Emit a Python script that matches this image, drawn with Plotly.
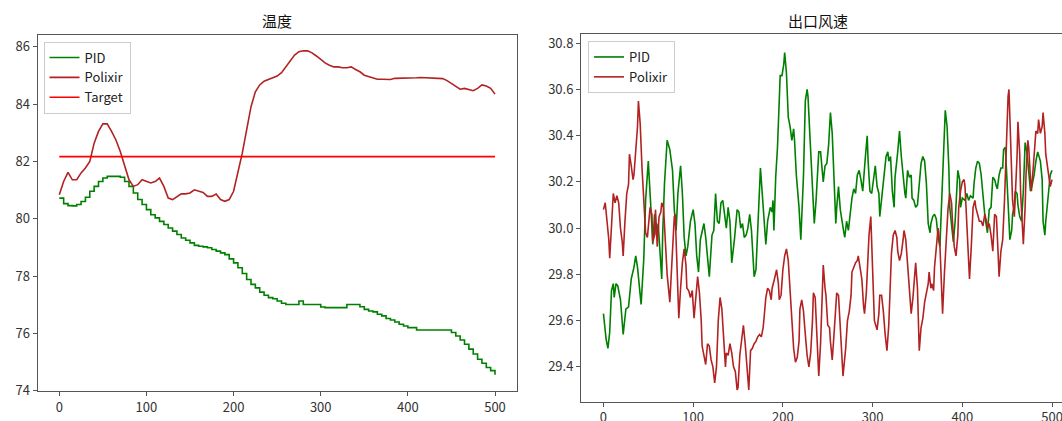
import plotly.graph_objects as go

# ---------------- 温度 (temperature) ----------------
temp_t = list(range(0, 501, 5))
temp_pid = [80.72, 80.53, 80.46, 80.45, 80.50, 80.60, 80.75, 80.96, 81.13, 81.30,
            81.42, 81.48, 81.48, 81.48, 81.45, 81.30, 81.13, 80.90, 80.67, 80.50,
            80.32, 80.14, 80.03, 79.91, 79.80, 79.68, 79.57, 79.45, 79.33, 79.25,
            79.16, 79.07, 79.04, 79.02, 78.99, 78.93, 78.87, 78.81, 78.75, 78.60,
            78.46, 78.29, 78.09, 77.88, 77.71, 77.59, 77.44, 77.33, 77.25, 77.21,
            77.13, 77.05, 77.01, 77.01, 77.01, 77.13, 77.01, 77.01, 77.01, 77.01,
            76.92, 76.90, 76.90, 76.90, 76.90, 76.90, 77.01, 77.01, 77.01, 76.93,
            76.84, 76.78, 76.75, 76.67, 76.61, 76.52, 76.47, 76.40, 76.32, 76.26,
            76.20, 76.20, 76.12, 76.12, 76.12, 76.12, 76.12, 76.12, 76.12, 76.12,
            76.03, 75.91, 75.77, 75.62, 75.45, 75.28, 75.10, 74.96, 74.81, 74.70,
            74.56]
temp_polixir = [80.84, 81.30, 81.62, 81.36, 81.36, 81.60, 81.77, 82.00, 82.64, 83.05,
                83.31, 83.31, 83.05, 82.75, 82.35, 81.83, 81.36, 81.13, 81.19, 81.36,
                81.30, 81.25, 81.30, 81.42, 81.13, 80.72, 80.67, 80.78, 80.87, 80.87,
                80.90, 81.01, 80.96, 80.92, 80.78, 80.78, 80.86, 80.67, 80.61, 80.67,
                80.96, 81.60, 82.29, 83.10, 83.91, 84.43, 84.67, 84.80, 84.86, 84.92,
                84.98, 85.10, 85.30, 85.51, 85.71, 85.83, 85.86, 85.86, 85.79, 85.68,
                85.56, 85.44, 85.36, 85.30, 85.30, 85.27, 85.27, 85.30, 85.21, 85.13,
                85.01, 84.96, 84.90, 84.87, 84.87, 84.87, 84.86, 84.90, 84.90, 84.90,
                84.90, 84.90, 84.92, 84.93, 84.92, 84.92, 84.92, 84.91, 84.89, 84.82,
                84.72, 84.61, 84.52, 84.55, 84.52, 84.47, 84.55, 84.67, 84.63, 84.55,
                84.35]
target_t = [0, 500]
target_v = [82.17, 82.17]

# ---------------- 出口风速 (outlet wind speed) ----------------
wind_pid_t = [0, 3, 5, 7, 9, 11, 12, 14, 16, 19, 22, 25, 28, 31, 34, 36, 38, 40, 42, 45,
              47, 50, 52, 54, 55, 57, 59, 61, 63, 65, 66, 68, 71, 74, 77, 79, 81, 83, 86, 88,
              90, 92, 94, 97, 100, 102, 104, 106, 108, 110, 112, 114, 116, 118, 121, 123, 125, 127, 129, 131,
              133, 135, 137, 139, 141, 143, 146, 149, 151, 153, 155, 157, 159, 161, 163, 165, 166, 168, 170, 172,
              174, 175, 177, 179, 181, 183, 186, 188, 189, 190, 192, 194, 197, 199, 201, 202, 204, 206, 208, 210,
              212, 213, 215, 218, 220, 223, 225, 227, 228, 230, 232, 233, 235, 237, 240, 242, 244, 245, 247, 249,
              251, 253, 255, 257, 259, 260, 262, 264, 266, 268, 269, 271, 273, 275, 277, 279, 281, 283, 285, 287,
              289, 292, 294, 295, 297, 299, 301, 303, 305, 307, 308, 311, 313, 315, 317, 318, 320, 322, 324, 325,
              328, 330, 332, 334, 336, 337, 339, 341, 343, 344, 346, 348, 350, 352, 354, 356, 358, 360, 362, 364,
              365, 367, 369, 371, 373, 375, 376, 378, 380, 381, 383, 385, 386, 389, 390, 392, 394, 395, 397, 398,
              400, 403, 405, 407, 409, 412, 413, 415, 417, 419, 421, 423, 425, 426, 428, 430, 432, 434, 436, 438,
              439, 441, 443, 445, 446, 448, 450, 452, 453, 455, 456, 458, 459, 461, 462, 464, 466, 468, 470, 472,
              474, 476, 478, 480, 482, 484, 487, 489, 490, 492, 493, 496, 498, 500]
wind_pid_v = [29.63, 29.52, 29.48, 29.55, 29.73, 29.76, 29.70, 29.76, 29.75, 29.69, 29.54, 29.65, 29.66, 29.78, 29.83, 29.88, 29.83, 29.74, 29.67, 29.87,
              30.12, 30.29, 30.17, 30.01, 29.93, 30.06, 29.97, 30.02, 29.90, 29.78, 29.97, 30.19, 30.38, 30.34, 30.25, 30.08, 29.99, 30.15, 30.27, 30.15,
              29.96, 29.88, 29.92, 30.03, 30.08, 30.02, 29.88, 29.81, 29.95, 29.99, 30.02, 29.96, 29.86, 29.79, 29.97, 29.99, 30.15, 30.03, 30.02, 30.11,
              30.12, 30.06, 30.00, 30.09, 30.03, 29.85, 29.95, 30.08, 30.07, 30.00, 30.02, 29.96, 29.97, 30.00, 30.06, 29.99, 29.90, 29.79, 29.82, 30.03,
              30.20, 30.26, 30.15, 30.02, 29.93, 30.03, 30.09, 30.07, 30.12, 29.99, 30.22, 30.35, 30.66, 30.66, 30.71, 30.76, 30.67, 30.48, 30.44, 30.38,
              30.43, 30.38, 30.23, 30.09, 29.95, 30.23, 30.55, 30.60, 30.57, 30.41, 30.26, 30.15, 30.02, 30.12, 30.33, 30.33, 30.22, 30.20, 30.27, 30.28,
              30.36, 30.50, 30.41, 30.23, 30.02, 30.09, 30.18, 30.08, 30.02, 29.98, 29.96, 30.03, 29.99, 30.06, 30.13, 30.17, 30.15, 30.23, 30.25, 30.21,
              30.16, 30.31, 30.40, 30.29, 30.16, 30.15, 30.21, 30.27, 30.18, 30.15, 30.05, 30.15, 30.23, 30.31, 30.33, 30.29, 30.31, 30.16, 30.09, 30.22,
              30.33, 30.42, 30.31, 30.21, 30.15, 30.13, 30.25, 30.22, 30.23, 30.13, 30.12, 30.09, 30.10, 30.19, 30.28, 30.31, 30.29, 30.19, 30.02, 29.98,
              30.02, 30.05, 30.06, 30.04, 29.96, 29.92, 30.03, 30.23, 30.46, 30.51, 30.44, 30.26, 30.09, 29.97, 29.94, 30.03, 30.19, 30.25, 30.21, 30.09,
              30.13, 30.12, 30.15, 30.12, 30.14, 30.13, 30.19, 30.26, 30.29, 30.28, 30.23, 30.13, 30.06, 30.03, 29.98, 30.08, 30.09, 30.22, 30.21, 30.18,
              30.17, 30.23, 30.26, 30.26, 30.34, 30.35, 30.19, 30.00, 29.95, 29.99, 30.06, 30.10, 30.16, 30.15, 30.10, 30.05, 30.03, 30.16, 30.37, 30.33,
              30.23, 30.16, 30.19, 30.23, 30.29, 30.33, 30.29, 30.21, 30.03, 29.97, 30.03, 30.16, 30.23, 30.25]

wind_pol_t = [0, 2, 4, 6, 7, 9, 11, 13, 15, 17, 19, 21, 22, 24, 26, 28, 29, 31, 33, 34,
              36, 38, 39, 41, 43, 45, 47, 49, 51, 52, 54, 55, 57, 58, 60, 62, 64, 65, 67, 69,
              71, 74, 76, 79, 80, 82, 84, 86, 88, 90, 92, 93, 95, 97, 99, 101, 103, 105, 107, 109,
              110, 112, 114, 116, 118, 120, 122, 124, 126, 128, 130, 132, 134, 136, 137, 139, 141, 143, 145, 147,
              149, 150, 152, 155, 156, 158, 160, 162, 164, 166, 168, 170, 172, 174, 176, 178, 179, 181, 183, 185,
              187, 188, 190, 192, 193, 195, 196, 198, 200, 202, 204, 206, 208, 210, 212, 214, 216, 218, 219, 221,
              223, 225, 227, 229, 231, 233, 234, 236, 238, 240, 242, 244, 245, 247, 248, 250, 252, 253, 255, 257,
              259, 260, 262, 264, 266, 267, 269, 270, 272, 274, 276, 277, 279, 281, 283, 284, 286, 288, 290, 291,
              293, 295, 296, 298, 299, 301, 302, 304, 305, 307, 308, 310, 312, 314, 316, 318, 320, 321, 323, 325,
              327, 328, 330, 332, 334, 335, 337, 339, 341, 343, 345, 347, 348, 350, 352, 354, 356, 358, 360, 362,
              363, 365, 366, 368, 369, 371, 373, 375, 376, 378, 380, 382, 384, 386, 388, 389, 391, 393, 395, 396,
              398, 400, 402, 403, 405, 407, 408, 410, 412, 414, 415, 417, 419, 421, 423, 425, 427, 428, 430, 432,
              434, 436, 438, 440, 441, 443, 445, 447, 449, 451, 452, 453, 455, 456, 458, 459, 461, 462, 464, 465,
              467, 468, 470, 471, 473, 474, 476, 477, 479, 481, 482, 484, 485, 487, 489, 490, 492, 493, 496, 498,
              500]
wind_pol_v = [30.08, 30.11, 30.03, 29.95, 29.87, 30.00, 30.15, 30.11, 30.14, 30.11, 30.00, 29.94, 29.88, 30.03, 30.15, 30.19, 30.32, 30.27, 30.21, 30.23,
              30.32, 30.44, 30.55, 30.45, 30.26, 30.11, 29.98, 29.96, 30.03, 30.09, 30.06, 29.94, 29.97, 30.08, 29.92, 30.05, 30.07, 30.11, 30.09, 29.92,
              29.80, 29.68, 29.84, 30.05, 30.06, 29.80, 29.61, 29.74, 29.85, 29.91, 29.84, 29.74, 29.73, 29.70, 29.73, 29.61, 29.71, 29.79, 29.72, 29.60,
              29.49, 29.44, 29.41, 29.50, 29.49, 29.43, 29.40, 29.33, 29.40, 29.60, 29.70, 29.65, 29.50, 29.40, 29.46, 29.45, 29.50, 29.46, 29.40, 29.38,
              29.30, 29.31, 29.45, 29.55, 29.58, 29.50, 29.40, 29.30, 29.47, 29.48, 29.50, 29.51, 29.53, 29.54, 29.53, 29.57, 29.61, 29.70, 29.74, 29.73,
              29.69, 29.74, 29.77, 29.81, 29.82, 29.76, 29.69, 29.71, 29.82, 29.88, 29.91, 29.86, 29.74, 29.60, 29.48, 29.42, 29.44, 29.51, 29.65, 29.69,
              29.64, 29.54, 29.45, 29.40, 29.46, 29.60, 29.72, 29.70, 29.52, 29.36, 29.50, 29.71, 29.84, 29.74, 29.71, 29.58, 29.57, 29.51, 29.43, 29.54,
              29.67, 29.72, 29.71, 29.58, 29.44, 29.36, 29.44, 29.48, 29.60, 29.64, 29.71, 29.81, 29.83, 29.85, 29.86, 29.88, 29.83, 29.78, 29.66, 29.63,
              29.72, 29.89, 29.97, 30.05, 29.90, 29.71, 29.60, 29.57, 29.56, 29.63, 29.71, 29.71, 29.64, 29.54, 29.47, 29.58, 29.76, 29.89, 29.97, 29.99,
              29.96, 29.90, 29.86, 29.89, 29.95, 29.99, 29.95, 29.83, 29.71, 29.63, 29.70, 29.82, 29.85, 29.74, 29.47, 29.57, 29.61, 29.68, 29.72, 29.76,
              29.81, 29.74, 29.76, 29.73, 29.83, 29.92, 30.00, 29.93, 29.80, 29.63, 29.80, 29.97, 30.08, 30.15, 30.11, 30.03, 29.92, 29.88, 29.97, 30.09,
              30.16, 30.20, 30.21, 30.18, 30.03, 29.89, 29.78, 29.92, 30.09, 30.12, 30.09, 30.06, 30.03, 30.03, 30.01, 30.06, 30.03, 30.00, 30.02, 29.97,
              29.90, 30.06, 30.05, 29.88, 29.79, 29.90, 29.95, 30.12, 30.36, 30.57, 30.60, 30.49, 30.29, 30.12, 30.05, 30.12, 30.31, 30.46, 30.32, 30.15,
              30.03, 29.93, 30.09, 30.23, 30.38, 30.35, 30.21, 30.16, 30.26, 30.35, 30.42, 30.41, 30.47, 30.41, 30.44, 30.50, 30.41, 30.32, 30.22, 30.18,
              30.21]

# ---------------- styling ----------------
W, H = 1062, 421
GREEN = "#008000"
POLIXIR = "#b22222"
TARGET = "#ff0000"
FRAME = "#555555"
FONT = "Noto Sans CJK SC, DejaVu Sans, sans-serif"
LW = 1.6

fig = go.Figure()
fig.add_trace(go.Scatter(x=temp_t, y=temp_pid, name="PID", mode="lines",
                         line=dict(color=GREEN, width=LW, shape="hv"), xaxis="x", yaxis="y", legend="legend"))
fig.add_trace(go.Scatter(x=temp_t, y=temp_polixir, name="Polixir", mode="lines",
                         line=dict(color=POLIXIR, width=LW), xaxis="x", yaxis="y", legend="legend"))
fig.add_trace(go.Scatter(x=target_t, y=target_v, name="Target", mode="lines",
                         line=dict(color=TARGET, width=LW), xaxis="x", yaxis="y", legend="legend"))
fig.add_trace(go.Scatter(x=wind_pid_t, y=wind_pid_v, name="PID", mode="lines",
                         line=dict(color=GREEN, width=LW), xaxis="x2", yaxis="y2", legend="legend2"))
fig.add_trace(go.Scatter(x=wind_pol_t, y=wind_pol_v, name="Polixir", mode="lines",
                         line=dict(color=POLIXIR, width=LW), xaxis="x2", yaxis="y2", legend="legend2"))


def px(x):
    return x / W


def py(y):
    return 1 - y / H


axis_common = dict(showgrid=False, zeroline=False, showline=True, linecolor=FRAME, linewidth=1,
                   ticks="outside", ticklen=4, tickcolor=FRAME, ticklabeloverflow="allow",
                   automargin=False,
                   tickfont=dict(family=FONT, size=13, color="#333333"))

legend_common = dict(xanchor="left", yanchor="top", bgcolor="rgba(255,255,255,0.85)",
                     bordercolor="#cccccc", borderwidth=1, itemwidth=30,
                     font=dict(family=FONT, size=13, color="#222222"), tracegroupgap=0)

fig.update_layout(
    template="none",
    width=W, height=H, autosize=False,
    margin=dict(l=0, r=0, t=0, b=0, pad=0),
    paper_bgcolor="white", plot_bgcolor="white",
    font=dict(family=FONT, size=13, color="#222222"),
    xaxis=dict(domain=[px(37.5), px(516.8)], range=[-25, 525], tickvals=[0, 100, 200, 300, 400, 500],
               mirror=True, anchor="y", **axis_common),
    yaxis=dict(domain=[py(391), py(34.5)], range=[73.99, 86.43], tickvals=[74, 76, 78, 80, 82, 84, 86],
               mirror=True, anchor="x", **axis_common),
    xaxis2=dict(domain=[px(581), 1.0], range=[-25, 511.1], tickvals=[0, 100, 200, 300, 400, 500],
                mirror=True, anchor="y2", **axis_common),
    yaxis2=dict(domain=[py(401.5), py(34)], range=[29.25, 30.84],
                tickvals=[29.4, 29.6, 29.8, 30.0, 30.2, 30.4, 30.6, 30.8], tickformat=".1f",
                mirror=False, anchor="x2", **axis_common),
    legend=dict(x=px(43.5), y=py(41.5), **legend_common),
    legend2=dict(x=px(588), y=py(41), **legend_common),
    annotations=[
        dict(text="温度", x=px(277), y=py(20), xref="paper", yref="paper", showarrow=False,
             xanchor="center", yanchor="middle", font=dict(family=FONT, size=15, color="#111111")),
        dict(text="出口风速", x=px(818), y=py(20), xref="paper", yref="paper", showarrow=False,
             xanchor="center", yanchor="middle", font=dict(family=FONT, size=15, color="#111111")),
    ],
)

fig.write_html("out.html", config={"displayModeBar": False},
               post_script="document.body.style.margin='0';document.body.style.overflow='hidden';")
